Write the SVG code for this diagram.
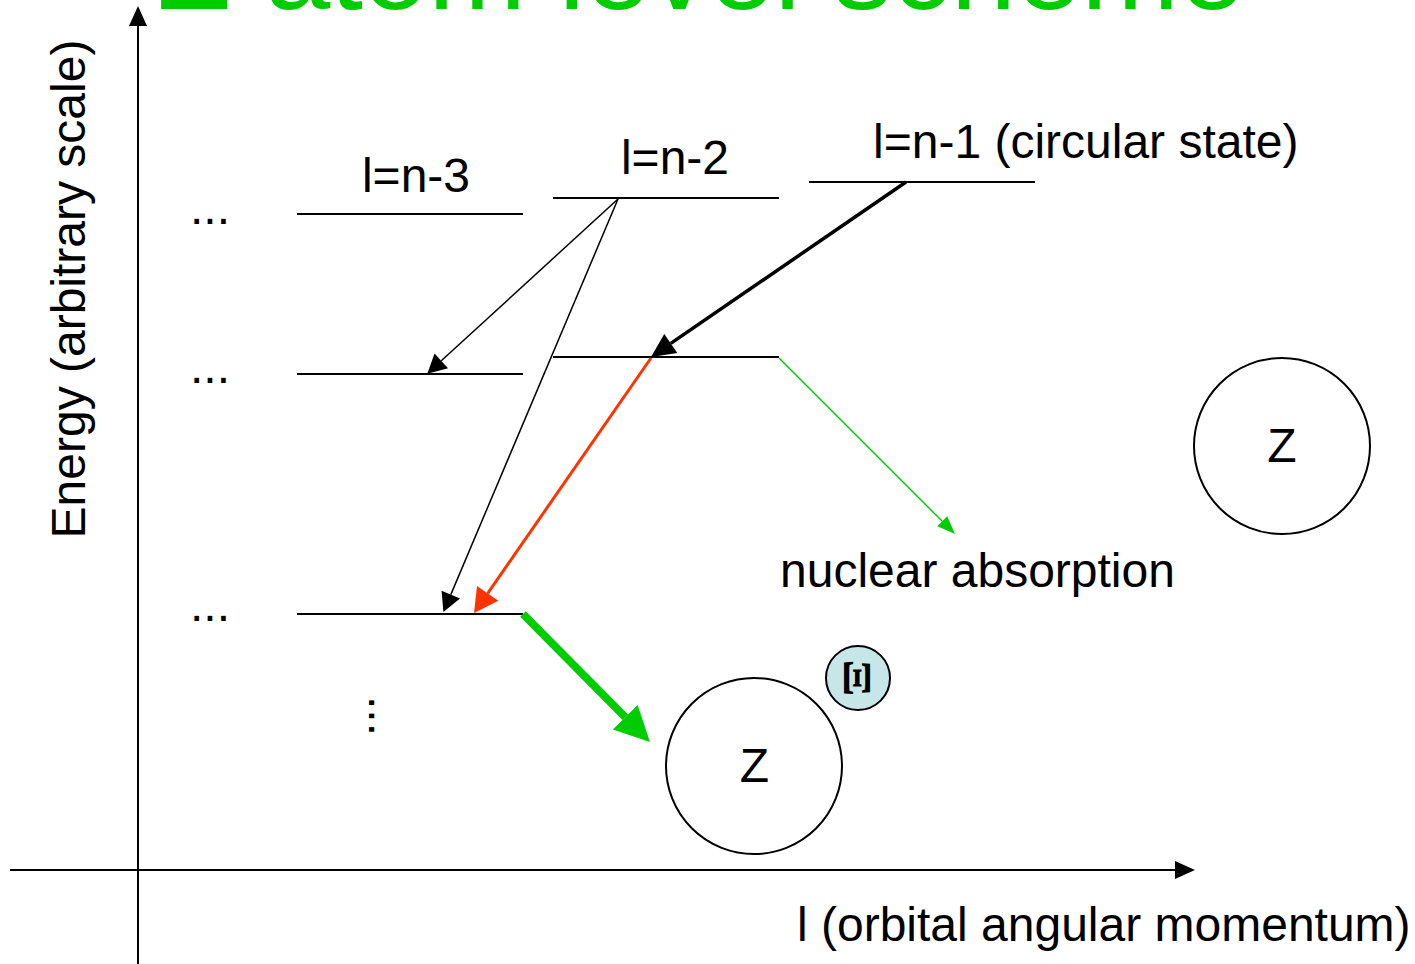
<svg xmlns="http://www.w3.org/2000/svg" width="1415" height="964" viewBox="0 0 1415 964">
<style>
text{font-family:"Liberation Sans",Arial,sans-serif;font-size:48px;fill:#000}
.lvl{stroke:#000;stroke-width:2;fill:none}
.ax{stroke:#000;stroke-width:2;fill:none}
.nuc{stroke:#000;stroke-width:2;fill:#fff}
</style>
<defs>
<marker id="mAx" markerUnits="userSpaceOnUse" markerWidth="20" markerHeight="18" refX="0" refY="9" orient="auto" overflow="visible"><path d="M0,0 L20,9 L0,18 z" fill="#000"/></marker>
<marker id="mBlkS" markerUnits="userSpaceOnUse" markerWidth="19" markerHeight="20" refX="0" refY="10" orient="auto" overflow="visible"><path d="M0,0 L19,10 L0,20 z" fill="#000"/></marker>
<marker id="mBlkL" markerUnits="userSpaceOnUse" markerWidth="24" markerHeight="23" refX="0" refY="11.5" orient="auto" overflow="visible"><path d="M0,0 L24,11.5 L0,23 z" fill="#000"/></marker>
<marker id="mRed" markerUnits="userSpaceOnUse" markerWidth="24" markerHeight="26" refX="0" refY="13" orient="auto" overflow="visible"><path d="M0,0 L24,13 L0,26 z" fill="#FF3300"/></marker>
<marker id="mGrnS" markerUnits="userSpaceOnUse" markerWidth="18" markerHeight="14" refX="0" refY="7" orient="auto" overflow="visible"><path d="M0,0 L18,7 L0,14 z" fill="#00CC00"/></marker>
<marker id="mGrnL" markerUnits="userSpaceOnUse" markerWidth="35" markerHeight="35" refX="0" refY="17.5" orient="auto" overflow="visible"><path d="M0,0 L35,17.5 L0,35 z" fill="#00CC00"/></marker>
</defs>
<rect width="1415" height="964" fill="#fff"/>
<text id="title" x="156" y="9" style="font-size:117.5px;fill:#00CC00">Ξ atom level scheme</text>
<g id="axes">
<line class="ax" x1="138" y1="964" x2="138" y2="26" marker-end="url(#mAx)"/>
<line class="ax" x1="10" y1="870" x2="1175" y2="870" marker-end="url(#mAx)"/>
<text id="ylabel" transform="translate(85,289) rotate(-90)" text-anchor="middle">Energy (arbitrary scale)</text>
<text id="xlabel" x="797" y="941">l (orbital angular momentum)</text>
</g>
<g id="col-n3">
<text x="416" y="192" text-anchor="middle">l=n-3</text>
<line class="lvl" x1="297" y1="214" x2="523" y2="214"/>
<line class="lvl" x1="297" y1="374" x2="523" y2="374"/>
<line class="lvl" x1="297" y1="614" x2="523" y2="614"/>
</g>
<g id="col-n2">
<text x="675" y="174" text-anchor="middle">l=n-2</text>
<line class="lvl" x1="553" y1="198" x2="779" y2="198"/>
<line class="lvl" x1="553" y1="357" x2="779" y2="357"/>
</g>
<g id="col-n1">
<text x="873" y="158">l=n-1 (circular state)</text>
<line class="lvl" x1="809" y1="182" x2="1035" y2="182"/>
</g>
<g id="dots">
<text x="190" y="224">...</text>
<text x="190" y="383">...</text>
<text x="190" y="621">...</text>
<text transform="translate(369,696) rotate(90)">...</text>
</g>
<g id="label-absorption">
<text x="780" y="587">nuclear absorption</text>
</g>
<g id="nucleus-upper">
<circle class="nuc" cx="1282" cy="446" r="88"/>
<text x="1282" y="462" text-anchor="middle">Z</text>
</g>
<g id="nucleus-lower">
<circle class="nuc" cx="754" cy="766" r="88"/>
<text x="754.5" y="782" text-anchor="middle">Z</text>
</g>
<g id="xi">
<circle cx="858" cy="678" r="32" fill="#C6E6E8" stroke="#000" stroke-width="2"/>
<text transform="translate(858,678) rotate(90) scale(1.35,1)" text-anchor="middle" dy="14" style="font-family:'Liberation Serif','Times New Roman',serif;font-size:41px;font-weight:bold">Ξ</text>
</g>
<g id="connectors" fill="none">
<line x1="618" y1="199" x2="441.3" y2="360.8" stroke="#000" stroke-width="1.5" marker-end="url(#mBlkS)"/>
<line x1="618" y1="199" x2="450.8" y2="594.6" stroke="#000" stroke-width="1.5" marker-end="url(#mBlkS)"/>
<line x1="906" y1="182" x2="670.8" y2="343.4" stroke="#000" stroke-width="3.5" marker-end="url(#mBlkL)"/>
<line x1="651" y1="358" x2="487.7" y2="593.3" stroke="#FF3300" stroke-width="3" marker-end="url(#mRed)"/>
<line x1="779" y1="358" x2="942.3" y2="521.3" stroke="#00CC00" stroke-width="1.4" marker-end="url(#mGrnS)"/>
<line x1="523" y1="614" x2="625.3" y2="717.2" stroke="#00CC00" stroke-width="8" marker-end="url(#mGrnL)"/>
</g>
</svg>
